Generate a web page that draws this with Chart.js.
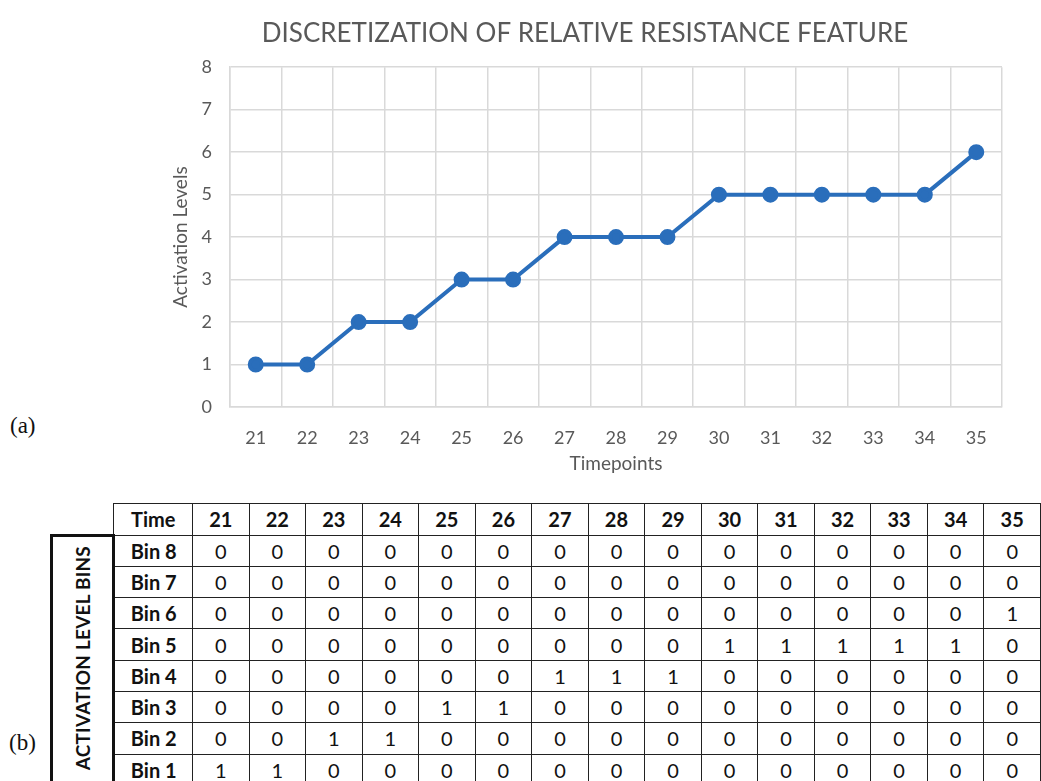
<!DOCTYPE html>
<html>
<head>
<meta charset="utf-8">
<script src="https://cdn.jsdelivr.net/npm/chart.js@4/dist/chart.umd.min.js"></script>
<style>
  html, body { margin: 0; padding: 0; background: #fff; }
  body { width: 1041px; height: 781px; overflow: hidden; position: relative; }
  #chartBox { position: absolute; left: 160px; top: 0; width: 852px; height: 480px; }
  .lbl { position: absolute; font-family: "Liberation Serif", serif; font-size: 23px; color: #111; }
  #binTable { position: absolute; left: 50px; top: 503px; border-collapse: collapse; table-layout: fixed;
              font-family: Lato, "Open Sans", sans-serif; font-size: 20px; color: #111; }
  #binTable td { border: 1.5px solid #222; text-align: center; padding: 0; height: 30px; }
  #binTable td.b { font-weight: bold; }
  #binTable td.blank { border: none; }
  #binTable td.side { border: 3px solid #111; font-weight: bold; font-size: 19px; }
  .vert { writing-mode: vertical-rl; transform: rotate(180deg); display: inline-block; white-space: nowrap; letter-spacing: 0.2px; }
</style>
</head>
<body>
<div id="chartBox"><canvas id="chart1"></canvas></div>
<div class="lbl" style="left:10px; top:413px;">(a)</div>
<div class="lbl" style="left:9px; top:730px;">(b)</div>
<table id="binTable"></table>
<script>
// Datos del gráfico
var timepoints = ["21", "22", "23", "24", "25", "26", "27", "28", "29", "30", "31", "32", "33", "34", "35"];
var activationLevels = [1, 1, 2, 2, 3, 3, 4, 4, 4, 5, 5, 5, 5, 5, 6];
var yTicks = [0, 1, 2, 3, 4, 5, 6, 7, 8];

// Datos de la tabla (b)
var binNames = ["Bin 8", "Bin 7", "Bin 6", "Bin 5", "Bin 4", "Bin 3", "Bin 2", "Bin 1"];
var bin8 = [0, 0, 0, 0, 0, 0, 0, 0, 0, 0, 0, 0, 0, 0, 0];
var bin7 = [0, 0, 0, 0, 0, 0, 0, 0, 0, 0, 0, 0, 0, 0, 0];
var bin6 = [0, 0, 0, 0, 0, 0, 0, 0, 0, 0, 0, 0, 0, 0, 1];
var bin5 = [0, 0, 0, 0, 0, 0, 0, 0, 0, 1, 1, 1, 1, 1, 0];
var bin4 = [0, 0, 0, 0, 0, 0, 1, 1, 1, 0, 0, 0, 0, 0, 0];
var bin3 = [0, 0, 0, 0, 1, 1, 0, 0, 0, 0, 0, 0, 0, 0, 0];
var bin2 = [0, 0, 1, 1, 0, 0, 0, 0, 0, 0, 0, 0, 0, 0, 0];
var bin1 = [1, 1, 0, 0, 0, 0, 0, 0, 0, 0, 0, 0, 0, 0, 0];
var binRows = [bin8, bin7, bin6, bin5, bin4, bin3, bin2, bin1];

var grisTexto = "#595959";
var grisGrid = "#d9d9d9";
var azul = "#2a6ebb";

// Configuración del gráfico
var config1 = {
    type: 'line',
    data: {
        labels: timepoints,
        datasets: [{
            label: "Activation Levels",
            data: activationLevels,
            borderColor: azul,
            backgroundColor: azul,
            borderWidth: 4,
            pointRadius: 6,
            pointHoverRadius: 6,
            tension: 0
        }]
    },
    options: {
        responsive: true,
        maintainAspectRatio: false,
        animation: false,
        layout: { padding: { left: 0, right: 2, top: 0, bottom: 0 } },
        plugins: {
            legend: { display: false },
            tooltip: { enabled: false },
            title: {
                display: true,
                text: "DISCRETIZATION OF RELATIVE RESISTANCE FEATURE",
                color: grisTexto,
                font: { family: "Lato", size: 26, weight: "normal" },
                padding: { top: 18, bottom: 18 }
            }
        },
        scales: {
            x: {
                offset: true,
                grid: { offset: true, color: grisGrid, lineWidth: 1.5, drawTicks: false },
                border: { color: grisGrid, width: 1.5 },
                ticks: { color: grisTexto, font: { family: "Lato", size: 18 }, padding: 20, maxRotation: 0 },
                title: { display: true, text: "Timepoints", color: grisTexto,
                         font: { family: "Lato", size: 19 }, padding: { top: 0, bottom: 5 } },
                afterFit: function (scale) { scale.height = 73; }
            },
            y: {
                min: 0,
                max: 8,
                afterBuildTicks: function (scale) { scale.ticks = yTicks.map(function (v) { return { value: v }; }); },
                grid: { color: grisGrid, lineWidth: 1.5, drawTicks: false },
                border: { color: grisGrid, width: 1.5 },
                ticks: { color: grisTexto, font: { family: "Lato", size: 18 }, padding: 18 },
                title: { display: true, text: "Activation Levels", color: grisTexto,
                         font: { family: "Lato", size: 19 }, padding: { top: 9, bottom: 0 } },
                afterFit: function (scale) { scale.width = 70; }
            }
        }
    }
};

var ctx1 = document.getElementById('chart1').getContext('2d');
new Chart(ctx1, config1);

// Crear la tabla (b)
var tabla = document.getElementById('binTable');
var html = '<colgroup><col style="width:63px"><col style="width:79px">';
for (var i = 0; i < timepoints.length; i++) html += '<col style="width:57px">';
html += '</colgroup>';
html += '<tr><td class="blank"></td><td class="b">Time</td>';
for (var i = 0; i < timepoints.length; i++) html += '<td class="b">' + timepoints[i] + '</td>';
html += '</tr>';
for (var r = 0; r < binRows.length; r++) {
    html += '<tr style="height:31.3px">';
    if (r === 0) html += '<td class="side" rowspan="' + binRows.length + '"><span class="vert">ACTIVATION LEVEL BINS</span></td>';
    html += '<td class="b">' + binNames[r] + '</td>';
    for (var c = 0; c < binRows[r].length; c++) html += '<td>' + binRows[r][c] + '</td>';
    html += '</tr>';
}
tabla.innerHTML = html;
</script>
</body>
</html>
